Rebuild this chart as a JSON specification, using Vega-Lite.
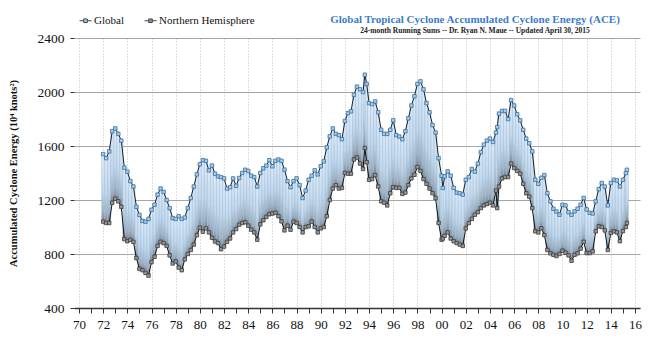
{
  "$schema": "https://vega.github.io/schema/vega-lite/v6.json",
  "width": 566,
  "height": 270,
  "autosize": "none",
  "padding": {"left": 74, "top": 38, "right": 21, "bottom": 45},
  "background": "white",
  "config": {
    "font": "Liberation Serif",
    "view": {"stroke": null}
  },
  "title": {
    "text": "Global Tropical Cyclone Accumulated Cyclone Energy (ACE)",
    "subtitle": "24-month Running Sums -- Dr. Ryan N. Maue -- Updated April 30, 2015",
    "anchor": "middle",
    "frame": "group",
    "dx": 118,
    "dy": 25,
    "offset": 5,
    "font": "Liberation Serif",
    "fontSize": 11,
    "fontWeight": "bold",
    "color": "#3b7dcc",
    "subtitleFont": "Liberation Serif",
    "subtitleFontSize": 7.5,
    "subtitleFontWeight": "bold",
    "subtitleColor": "#222222",
    "subtitlePadding": 2
  },
  "data": {
    "values": [
      {"t": 1972.0, "g": 1540, "n": 1040},
      {"t": 1972.25, "g": 1510, "n": 1030},
      {"t": 1972.5, "g": 1560, "n": 1030},
      {"t": 1972.75, "g": 1710, "n": 1180},
      {"t": 1973.0, "g": 1730, "n": 1210},
      {"t": 1973.25, "g": 1690, "n": 1190},
      {"t": 1973.5, "g": 1640, "n": 1150},
      {"t": 1973.75, "g": 1440, "n": 910},
      {"t": 1974.0, "g": 1410, "n": 895},
      {"t": 1974.25, "g": 1340, "n": 905},
      {"t": 1974.5, "g": 1300, "n": 890},
      {"t": 1974.75, "g": 1150, "n": 770},
      {"t": 1975.0, "g": 1090, "n": 690},
      {"t": 1975.25, "g": 1045, "n": 680},
      {"t": 1975.5, "g": 1040, "n": 660},
      {"t": 1975.75, "g": 1060, "n": 640},
      {"t": 1976.0, "g": 1128, "n": 740},
      {"t": 1976.25, "g": 1165, "n": 780},
      {"t": 1976.5, "g": 1240, "n": 860},
      {"t": 1976.75, "g": 1285, "n": 890},
      {"t": 1977.0, "g": 1260, "n": 880},
      {"t": 1977.25, "g": 1200, "n": 860},
      {"t": 1977.5, "g": 1140, "n": 790},
      {"t": 1977.75, "g": 1066, "n": 730},
      {"t": 1978.0, "g": 1060, "n": 745},
      {"t": 1978.25, "g": 1080, "n": 700},
      {"t": 1978.5, "g": 1060, "n": 680},
      {"t": 1978.75, "g": 1070, "n": 760},
      {"t": 1979.0, "g": 1140, "n": 800},
      {"t": 1979.25, "g": 1215, "n": 830},
      {"t": 1979.5, "g": 1300, "n": 870},
      {"t": 1979.75, "g": 1390, "n": 940},
      {"t": 1980.0, "g": 1465, "n": 995},
      {"t": 1980.25, "g": 1495, "n": 965},
      {"t": 1980.5, "g": 1490, "n": 990},
      {"t": 1980.75, "g": 1420, "n": 960},
      {"t": 1981.0, "g": 1455, "n": 920},
      {"t": 1981.25, "g": 1395, "n": 893},
      {"t": 1981.5, "g": 1375, "n": 881},
      {"t": 1981.75, "g": 1370, "n": 835},
      {"t": 1982.0, "g": 1360, "n": 855},
      {"t": 1982.25, "g": 1285, "n": 890},
      {"t": 1982.5, "g": 1295, "n": 915},
      {"t": 1982.75, "g": 1360, "n": 960},
      {"t": 1983.0, "g": 1305, "n": 985},
      {"t": 1983.25, "g": 1363, "n": 1017},
      {"t": 1983.5, "g": 1400, "n": 1030},
      {"t": 1983.75, "g": 1424, "n": 1035},
      {"t": 1984.0, "g": 1415, "n": 1010},
      {"t": 1984.25, "g": 1380, "n": 980},
      {"t": 1984.5, "g": 1370, "n": 960},
      {"t": 1984.75, "g": 1300, "n": 906},
      {"t": 1985.0, "g": 1400, "n": 1020},
      {"t": 1985.25, "g": 1435, "n": 1050},
      {"t": 1985.5, "g": 1455, "n": 1075},
      {"t": 1985.75, "g": 1495, "n": 1095},
      {"t": 1986.0, "g": 1450, "n": 1100},
      {"t": 1986.25, "g": 1490, "n": 1105},
      {"t": 1986.5, "g": 1500, "n": 1080},
      {"t": 1986.75, "g": 1490, "n": 1042},
      {"t": 1987.0, "g": 1425, "n": 975},
      {"t": 1987.25, "g": 1340, "n": 1010},
      {"t": 1987.5, "g": 1295, "n": 980},
      {"t": 1987.75, "g": 1340, "n": 1040},
      {"t": 1988.0, "g": 1360, "n": 1030},
      {"t": 1988.25, "g": 1310, "n": 1000},
      {"t": 1988.5, "g": 1215, "n": 960},
      {"t": 1988.75, "g": 1270, "n": 1000},
      {"t": 1989.0, "g": 1350, "n": 1005},
      {"t": 1989.25, "g": 1380, "n": 1040},
      {"t": 1989.5, "g": 1420, "n": 1000},
      {"t": 1989.75, "g": 1390, "n": 960},
      {"t": 1990.0, "g": 1450, "n": 990},
      {"t": 1990.25, "g": 1486, "n": 1000},
      {"t": 1990.5, "g": 1590, "n": 1080},
      {"t": 1990.75, "g": 1671, "n": 1200},
      {"t": 1991.0, "g": 1730, "n": 1285},
      {"t": 1991.25, "g": 1690, "n": 1310},
      {"t": 1991.5, "g": 1680, "n": 1285},
      {"t": 1991.75, "g": 1650, "n": 1290},
      {"t": 1992.0, "g": 1785, "n": 1400},
      {"t": 1992.25, "g": 1844, "n": 1395},
      {"t": 1992.5, "g": 1857, "n": 1395},
      {"t": 1992.75, "g": 1980, "n": 1500},
      {"t": 1993.0, "g": 2040, "n": 1515},
      {"t": 1993.25, "g": 2020, "n": 1470},
      {"t": 1993.5, "g": 2000, "n": 1430},
      {"t": 1993.65, "g": 2128, "n": 1585},
      {"t": 1993.8, "g": 2060, "n": 1480},
      {"t": 1994.0, "g": 1918, "n": 1350},
      {"t": 1994.25, "g": 1910, "n": 1355},
      {"t": 1994.5, "g": 1930, "n": 1385},
      {"t": 1994.75, "g": 1850, "n": 1300},
      {"t": 1995.0, "g": 1720, "n": 1190},
      {"t": 1995.25, "g": 1690, "n": 1180},
      {"t": 1995.5, "g": 1690, "n": 1160},
      {"t": 1995.75, "g": 1720, "n": 1250},
      {"t": 1996.0, "g": 1790, "n": 1295},
      {"t": 1996.25, "g": 1680, "n": 1290},
      {"t": 1996.5, "g": 1670, "n": 1290},
      {"t": 1996.75, "g": 1650, "n": 1245},
      {"t": 1997.0, "g": 1710, "n": 1255},
      {"t": 1997.25, "g": 1805, "n": 1310},
      {"t": 1997.5, "g": 1900, "n": 1360},
      {"t": 1997.75, "g": 1968, "n": 1387},
      {"t": 1998.0, "g": 2060, "n": 1444},
      {"t": 1998.25, "g": 2079, "n": 1415},
      {"t": 1998.5, "g": 2020, "n": 1355},
      {"t": 1998.75, "g": 1918, "n": 1320},
      {"t": 1999.0, "g": 1850, "n": 1285},
      {"t": 1999.25, "g": 1755, "n": 1250},
      {"t": 1999.5, "g": 1700, "n": 1215},
      {"t": 1999.75, "g": 1510, "n": 1030},
      {"t": 2000.0, "g": 1380, "n": 906},
      {"t": 2000.1, "g": 1289, "n": 915},
      {"t": 2000.25, "g": 1375, "n": 935},
      {"t": 2000.5, "g": 1412, "n": 960},
      {"t": 2000.75, "g": 1380, "n": 915},
      {"t": 2001.0, "g": 1290, "n": 894},
      {"t": 2001.25, "g": 1255, "n": 881},
      {"t": 2001.5, "g": 1250, "n": 870},
      {"t": 2001.75, "g": 1240, "n": 860},
      {"t": 2002.0, "g": 1350, "n": 990},
      {"t": 2002.25, "g": 1370, "n": 1029},
      {"t": 2002.5, "g": 1430, "n": 1060},
      {"t": 2002.75, "g": 1410, "n": 1091},
      {"t": 2003.0, "g": 1470, "n": 1110},
      {"t": 2003.25, "g": 1555, "n": 1140},
      {"t": 2003.5, "g": 1610, "n": 1160},
      {"t": 2003.75, "g": 1640, "n": 1170},
      {"t": 2004.0, "g": 1655, "n": 1180},
      {"t": 2004.25, "g": 1630, "n": 1160},
      {"t": 2004.5, "g": 1700, "n": 1270},
      {"t": 2004.6, "g": 1740, "n": 1140},
      {"t": 2004.75, "g": 1840, "n": 1300},
      {"t": 2005.0, "g": 1860, "n": 1360},
      {"t": 2005.25, "g": 1860, "n": 1370},
      {"t": 2005.5, "g": 1800, "n": 1370},
      {"t": 2005.75, "g": 1940, "n": 1470},
      {"t": 2006.0, "g": 1900, "n": 1437},
      {"t": 2006.25, "g": 1835, "n": 1415},
      {"t": 2006.5, "g": 1790, "n": 1395},
      {"t": 2006.75, "g": 1720, "n": 1320},
      {"t": 2007.0, "g": 1655, "n": 1250},
      {"t": 2007.25, "g": 1620, "n": 1225},
      {"t": 2007.5, "g": 1560, "n": 1140},
      {"t": 2007.75, "g": 1350, "n": 968},
      {"t": 2008.0, "g": 1320, "n": 960},
      {"t": 2008.25, "g": 1365, "n": 990},
      {"t": 2008.5, "g": 1385, "n": 940},
      {"t": 2008.75, "g": 1250, "n": 830},
      {"t": 2009.0, "g": 1190, "n": 805},
      {"t": 2009.25, "g": 1135, "n": 794},
      {"t": 2009.5, "g": 1115, "n": 785},
      {"t": 2009.75, "g": 1091, "n": 800},
      {"t": 2010.0, "g": 1165, "n": 825},
      {"t": 2010.25, "g": 1160, "n": 810},
      {"t": 2010.5, "g": 1110, "n": 790},
      {"t": 2010.75, "g": 1090, "n": 750},
      {"t": 2011.0, "g": 1116, "n": 794},
      {"t": 2011.25, "g": 1135, "n": 805},
      {"t": 2011.5, "g": 1165, "n": 840},
      {"t": 2011.75, "g": 1215, "n": 890},
      {"t": 2012.0, "g": 1130, "n": 807},
      {"t": 2012.25, "g": 1105, "n": 807},
      {"t": 2012.5, "g": 1100, "n": 819},
      {"t": 2012.75, "g": 1190, "n": 968},
      {"t": 2013.0, "g": 1280, "n": 1005},
      {"t": 2013.25, "g": 1326, "n": 1000},
      {"t": 2013.5, "g": 1300, "n": 975},
      {"t": 2013.75, "g": 1160, "n": 830},
      {"t": 2014.0, "g": 1326, "n": 956},
      {"t": 2014.25, "g": 1350, "n": 968},
      {"t": 2014.5, "g": 1345, "n": 960},
      {"t": 2014.75, "g": 1300, "n": 895},
      {"t": 2015.0, "g": 1350, "n": 970},
      {"t": 2015.25, "g": 1400, "n": 1000},
      {"t": 2015.33, "g": 1424, "n": 1030}
    ]
  },
  "encoding": {
    "x": {
      "field": "t", "type": "quantitative",
      "scale": {"domain": [1970, 2016], "nice": false, "zero": false},
      "axis": {
        "title": null,
        "values": [1970,1971,1972,1973,1974,1975,1976,1977,1978,1979,1980,1981,1982,1983,1984,1985,1986,1987,1988,1989,1990,1991,1992,1993,1994,1995,1996,1997,1998,1999,2000,2001,2002,2003,2004,2005,2006,2007,2008,2009,2010,2011,2012,2013,2014,2015,2016],
        "labelExpr": "datum.value % 2 == 0 ? slice(format(datum.value, 'd'), 2) : ''",
        "labelOverlap": false,
        "labelBound": false,
        "labelFlush": false,
        "labelFont": "Liberation Serif",
        "labelFontSize": 13,
        "labelColor": "#111111",
        "labelPadding": 5,
        "grid": true,
        "gridColor": "#bdbdbd",
        "gridDash": [1, 2],
        "gridWidth": 1,
        "gridOpacity": {"condition": {"test": "datum.value % 2 == 0", "value": 1}, "value": 0},
        "domainColor": "#333333",
        "domainWidth": 1.5,
        "tickColor": "#333333",
        "tickSize": 5,
        "tickWidth": 1
      }
    }
  },
  "layer": [
    {
      "mark": {
        "type": "bar",
        "width": 3.1,
        "stroke": "#9fb3c5",
        "strokeWidth": 0.4,
        "fill": {
          "gradient": "linear",
          "x1": 0, "y1": 0, "x2": 0, "y2": 1,
          "stops": [
            {"offset": 0, "color": "#dbebfb"},
            {"offset": 0.55, "color": "#bfd8ef"},
            {"offset": 0.85, "color": "#9cb1c4"},
            {"offset": 1, "color": "#72818f"}
          ]
        }
      },
      "encoding": {
        "y": {
          "field": "g", "type": "quantitative",
          "title": "Accumulated Cyclone Energy (10⁴ knots²)",
          "scale": {"domain": [400, 2400], "nice": false, "zero": false},
          "axis": {
            "title": "Accumulated Cyclone Energy (10⁴ knots²)",
            "titleFont": "Liberation Serif",
            "titleFontSize": 10.5,
            "titleFontWeight": "bold",
            "titleColor": "#111111",
            "titleX": -56,
            "titleY": 135,
            "values": [400, 800, 1200, 1600, 2000, 2400],
            "format": "d",
            "labelFont": "Liberation Serif",
            "labelFontSize": 13.5,
            "labelColor": "#111111",
            "labelPadding": 6,
            "grid": true,
            "gridColor": "#a6a6a6",
            "gridWidth": 1,
            "domain": false,
            "tickColor": "#333333",
            "tickSize": 4
          }
        },
        "y2": {"field": "n"}
      }
    },
    {
      "mark": {"type": "line", "color": "#111111", "strokeWidth": 1},
      "encoding": {
        "y": {"field": "n", "type": "quantitative", "title": "Accumulated Cyclone Energy (10⁴ knots²)", "scale": {"domain": [400, 2400], "nice": false, "zero": false}}
      }
    },
    {
      "mark": {"type": "point", "shape": "square", "filled": true, "size": 12, "stroke": "#3c3c3c", "strokeWidth": 0.8, "opacity": 1},
      "encoding": {
        "y": {"field": "n", "type": "quantitative", "title": "Accumulated Cyclone Energy (10⁴ knots²)", "scale": {"domain": [400, 2400], "nice": false, "zero": false}},
        "color": {
          "datum": "Northern Hemisphere",
          "scale": {"domain": ["Global", "Northern Hemisphere"], "range": ["#a3cdf0", "#969696"]},
          "legend": {
            "title": null,
            "orient": "none",
            "legendX": 5,
            "legendY": -24,
            "direction": "horizontal",
            "symbolType": "M-1,0H-0.3M0.3,0H1M-0.3,-0.3H0.3V0.3H-0.3Z",
            "symbolSize": 144,
            "symbolStrokeWidth": 1,
            "symbolStrokeColor": "#444444",
            "labelFont": "Liberation Serif",
            "labelFontSize": 11,
            "labelColor": "#111111",
            "labelOffset": 2,
            "columnPadding": 18,
            "encode": {
              "symbols": {
                "update": {
                  "stroke": {"signal": "datum.value === 'Global' ? '#3f6f9a' : '#3c3c3c'"},
                  "strokeWidth": {"value": 1.2},
                  "opacity": {"value": 1}
                }
              }
            }
          }
        }
      }
    },
    {
      "mark": {"type": "line", "color": "#15212d", "strokeWidth": 1},
      "encoding": {
        "y": {"field": "g", "type": "quantitative", "title": "Accumulated Cyclone Energy (10⁴ knots²)", "scale": {"domain": [400, 2400], "nice": false, "zero": false}}
      }
    },
    {
      "mark": {"type": "point", "shape": "square", "filled": true, "size": 12, "stroke": "#3f6f9a", "strokeWidth": 0.8, "opacity": 1},
      "encoding": {
        "y": {"field": "g", "type": "quantitative", "title": "Accumulated Cyclone Energy (10⁴ knots²)", "scale": {"domain": [400, 2400], "nice": false, "zero": false}},
        "color": {
          "datum": "Global",
          "scale": {"domain": ["Global", "Northern Hemisphere"], "range": ["#a3cdf0", "#969696"]},
          "legend": {
            "title": null,
            "orient": "none",
            "legendX": 5,
            "legendY": -24,
            "direction": "horizontal",
            "symbolType": "M-1,0H-0.3M0.3,0H1M-0.3,-0.3H0.3V0.3H-0.3Z",
            "symbolSize": 144,
            "symbolStrokeWidth": 1,
            "symbolStrokeColor": "#444444",
            "labelFont": "Liberation Serif",
            "labelFontSize": 11,
            "labelColor": "#111111",
            "labelOffset": 2,
            "columnPadding": 18,
            "encode": {
              "symbols": {
                "update": {
                  "stroke": {"signal": "datum.value === 'Global' ? '#3f6f9a' : '#3c3c3c'"},
                  "strokeWidth": {"value": 1.2},
                  "opacity": {"value": 1}
                }
              }
            }
          }
        }
      }
    }
  ]
}
